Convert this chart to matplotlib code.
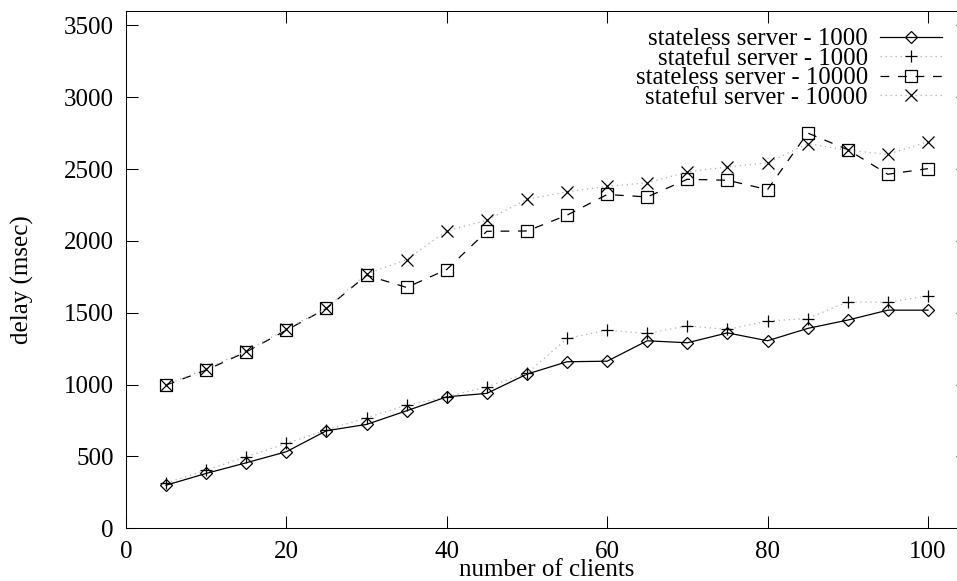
import matplotlib
matplotlib.use("Agg")
import matplotlib.pyplot as plt

plt.rcParams["font.family"] = ["Liberation Serif", "DejaVu Serif"]
plt.rcParams["font.size"] = 18

# number of clients
clients = [5, 10, 15, 20, 25, 30, 35, 40, 45, 50,
           55, 60, 65, 70, 75, 80, 85, 90, 95, 100]

# delay (msec)
stateless_1000 = [300, 382, 456, 533, 679, 723, 818, 915, 939, 1073,
                  1159, 1163, 1305, 1291, 1360, 1305, 1391, 1449, 1518, 1518]
stateful_1000 = [315, 405, 498, 591, 684, 769, 857, 915, 985, 1078,
                 1321, 1379, 1356, 1409, 1384, 1442, 1460, 1576, 1572, 1618]
stateless_10000 = [997, 1101, 1228, 1379, 1530, 1761, 1676, 1801, 2067, 2069,
                   2179, 2323, 2306, 2429, 2422, 2357, 2751, 2635, 2464, 2503]
stateful_10000 = [1000, 1110, 1235, 1385, 1535, 1770, 1870, 2070, 2144, 2290,
                  2341, 2380, 2404, 2480, 2515, 2543, 2677, 2631, 2603, 2689]

labels = ["stateless server - 1000", "stateful server - 1000",
          "stateless server - 10000", "stateful server - 10000"]

W, H = 957, 581
fig = plt.figure(figsize=(W / 100, H / 100), dpi=100)
# gnuplot-like plot area: right border falls just past the image edge
ax = fig.add_axes([126 / W, (H - 528.3) / H, 842 / W, 517.3 / H])

gray = "#b0b0b0"
ax.plot(clients, stateless_1000, color="k", lw=0.9, marker="D", ms=6.2,
        mfc="none", mec="k", mew=0.9, label=labels[0])
ax.plot(clients, stateful_1000, color=gray, lw=0.9, linestyle=(0, (1, 3)),
        marker="+", ms=9, mec="k", mew=0.9, label=labels[1])
ax.plot(clients, stateless_10000, color="k", lw=0.9, linestyle=(0, (7, 7)),
        marker="s", ms=9, mfc="none", mec="k", mew=0.9, label=labels[2])
ax.plot(clients, stateful_10000, color=gray, lw=0.9, linestyle=(0, (1, 3)),
        marker="x", ms=8.5, mec="k", mew=0.9, label=labels[3])

ax.set_xlim(0, 105)
ax.set_ylim(0, 3600)
ax.set_xticks([0, 20, 40, 60, 80, 100])
ax.set_yticks(range(0, 3501, 500))
ax.tick_params(direction="in", length=8.6, width=0.75, top=True, right=True)
ax.tick_params(axis="x", pad=9)
ax.tick_params(axis="y", pad=9)
for s in ax.spines.values():
    s.set_linewidth(0.75)

ax.set_xlabel("number of clients")
ax.xaxis.set_label_coords(0.5, (528.3 - 570) / 517.3)
ax.xaxis.label.set_va("center")
ax.set_ylabel("delay (msec)")
ax.yaxis.set_label_coords((22 - 126) / 842, 0.48)
ax.yaxis.label.set_va("center")

ax.legend(loc="upper right", bbox_to_anchor=(942 / W, 1 - 28 / H),
          bbox_transform=fig.transFigure, frameon=False, markerfirst=False,
          labelspacing=-0.11, handlelength=2.5, handletextpad=0.5,
          borderpad=0, borderaxespad=0, fontsize=17.8)

fig.savefig("out.png", dpi=100)
